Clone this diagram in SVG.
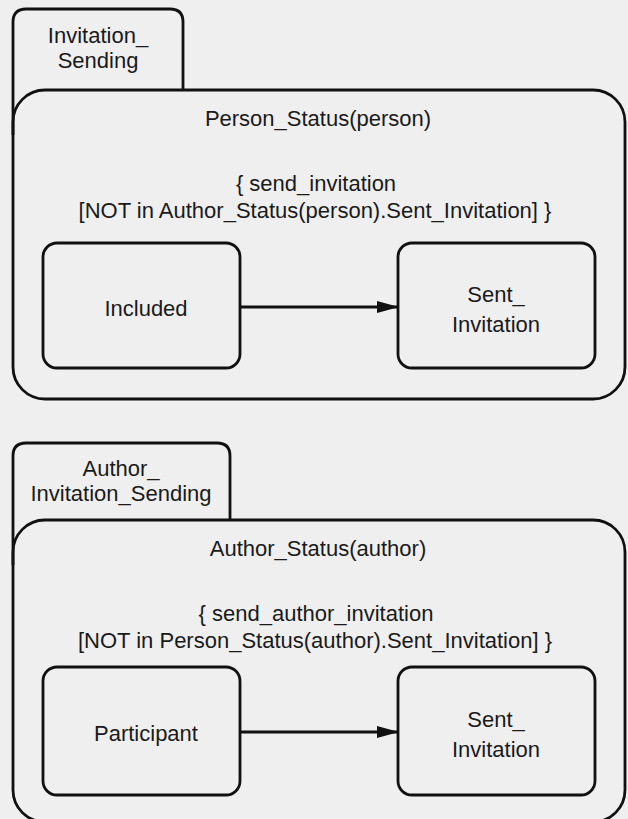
<svg xmlns="http://www.w3.org/2000/svg" width="628" height="819" viewBox="0 0 628 819">
<style>
.bg{fill:#efefef}
.ln{fill:none;stroke:#111;stroke-width:2.8}
.st{fill:none;stroke:#111;stroke-width:2.8}
text{font-family:"Liberation Sans",Arial,sans-serif;font-size:22px;fill:#1a1a1a;text-anchor:middle}
</style>
<defs>
<marker id="ah" markerWidth="22" markerHeight="14" refX="21" refY="7" orient="auto" markerUnits="userSpaceOnUse">
<path d="M0,1 L22,7 L0,13 Z" fill="#111"/>
</marker>
</defs>
<rect class="bg" x="0" y="0" width="628" height="819"/>
<g id="invitation_sending">
<path class="ln" d="M13,135 V22 Q13,9 26,9 H170 Q183,9 183,22 V90"/>
<text x="98" y="43">Invitation_</text>
<text x="98" y="68">Sending</text>
</g>
<g id="person_status">
<rect class="ln" x="13" y="90" width="612" height="309" rx="32" ry="32"/>
<text x="318" y="126">Person_Status(person)</text>
<text x="316" y="191">{ send_invitation</text>
<text x="315" y="218">[NOT in Author_Status(person).Sent_Invitation] }</text>
</g>
<g id="included">
<rect class="st" x="43" y="243" width="197" height="125" rx="14" ry="14"/>
<text x="146" y="316">Included</text>
</g>
<g id="sent_invitation_1">
<rect class="st" x="398" y="243" width="197" height="125" rx="14" ry="14"/>
<text x="496" y="302">Sent_</text>
<text x="496" y="332">Invitation</text>
</g>
<g id="author_invitation_sending">
<path class="ln" d="M13,565 V456 Q13,443 26,443 H217 Q230,443 230,456 V520"/>
<text x="121" y="476">Author_</text>
<text x="121" y="501">Invitation_Sending</text>
</g>
<g id="author_status">
<rect class="ln" x="13" y="520" width="612" height="302" rx="32" ry="32"/>
<text x="318" y="556">Author_Status(author)</text>
<text x="316" y="621">{ send_author_invitation</text>
<text x="315" y="648">[NOT in Person_Status(author).Sent_Invitation] }</text>
</g>
<g id="participant">
<rect class="st" x="43" y="667" width="197" height="128" rx="14" ry="14"/>
<text x="146" y="741">Participant</text>
</g>
<g id="sent_invitation_2">
<rect class="st" x="398" y="667" width="197" height="128" rx="14" ry="14"/>
<text x="496" y="727">Sent_</text>
<text x="496" y="757">Invitation</text>
</g>
<g id="connectors">
<line class="st" x1="240" y1="307" x2="398" y2="307" marker-end="url(#ah)"/>
<line class="st" x1="240" y1="732" x2="398" y2="732" marker-end="url(#ah)"/>
</g>
</svg>
